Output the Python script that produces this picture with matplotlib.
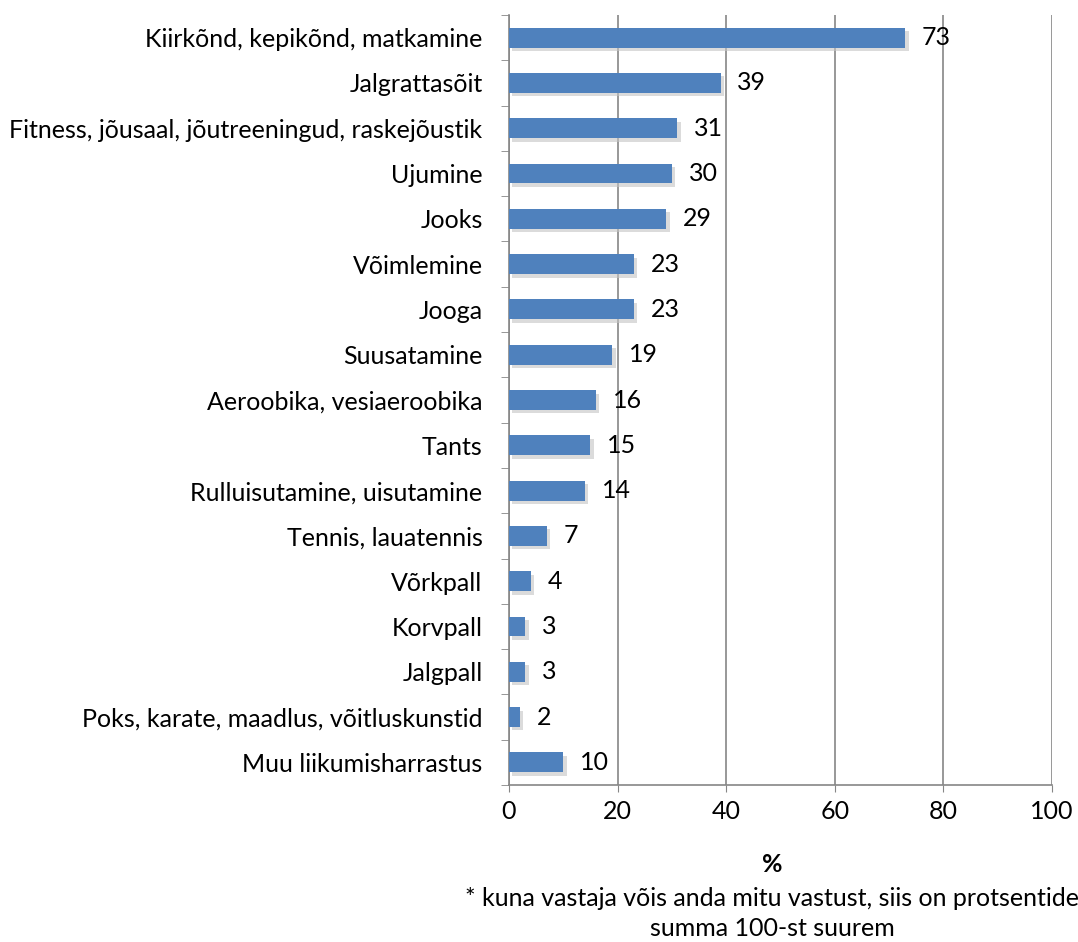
import matplotlib.pyplot as plt
import matplotlib.patheffects as pe

plt.rcParams['font.family'] = ['Lato', 'DejaVu Sans']

# liikumisharrastused, % vastanutest
categories = [
    "Kiirkõnd, kepikõnd, matkamine",
    "Jalgrattasõit",
    "Fitness, jõusaal, jõutreeningud, raskejõustik",
    "Ujumine",
    "Jooks",
    "Võimlemine",
    "Jooga",
    "Suusatamine",
    "Aeroobika, vesiaeroobika",
    "Tants",
    "Rulluisutamine, uisutamine",
    "Tennis, lauatennis",
    "Võrkpall",
    "Korvpall",
    "Jalgpall",
    "Poks, karate, maadlus, võitluskunstid",
    "Muu liikumisharrastus",
]
values = [73, 39, 31, 30, 29, 23, 23, 19, 16, 15, 14, 7, 4, 3, 3, 2, 10]
xticks = [0, 20, 40, 60, 80, 100]

FS = 18

fig = plt.figure(figsize=(10.78, 9.42), dpi=100)
ax = fig.add_axes([509 / 1078, 1 - 785 / 942, 543 / 1078, 770 / 942])

ypos = list(range(len(categories)))
shadow = [pe.SimplePatchShadow(offset=(2.5, -2.5), shadow_rgbFace='#c4c4c4', alpha=0.6), pe.Normal()]
bars = ax.barh(ypos, values, height=0.44, color='#4F81BD', zorder=3)
for b in bars:
    b.set_path_effects(shadow)

for y, v in zip(ypos, values):
    ax.annotate(str(v), (v, y), xytext=(12, 0), textcoords='offset points',
                va='center', ha='left', fontsize=FS, color='black', zorder=4)

ax.set_xlim(0, 100)
ax.set_ylim(len(categories) - 0.5, -0.5)
ax.set_xticks(xticks)
ax.set_yticks(ypos)
ax.set_yticklabels(categories, fontsize=FS)
ax.tick_params(axis='y', length=0, pad=19)
ax.tick_params(axis='x', labelsize=FS, length=5, color='#868686', pad=6)
# y-telje kriipsud kategooriate vahel
ax.set_yticks([i - 0.5 for i in range(len(categories) + 1)], minor=True)
ax.tick_params(axis='y', which='minor', length=6, color='#868686')

ax.grid(axis='x', color='#868686', linewidth=1.2, zorder=0)
for s in ['top', 'right']:
    ax.spines[s].set_visible(False)
ax.spines['left'].set_color('#868686')
ax.spines['bottom'].set_color('#868686')
ax.spines['left'].set_linewidth(1.2)
ax.spines['bottom'].set_linewidth(1.2)

fig.text(772 / 1078, 1 - 865 / 942, "%", ha='center', va='center', fontsize=FS, fontweight='bold')
fig.text(772 / 1078, 1 - 899 / 942, "* kuna vastaja võis anda mitu vastust, siis on protsentide",
         ha='center', va='center', fontsize=FS)
fig.text(772 / 1078, 1 - 929 / 942, "summa 100-st suurem", ha='center', va='center', fontsize=FS)

fig.savefig('out.png', dpi=100)
